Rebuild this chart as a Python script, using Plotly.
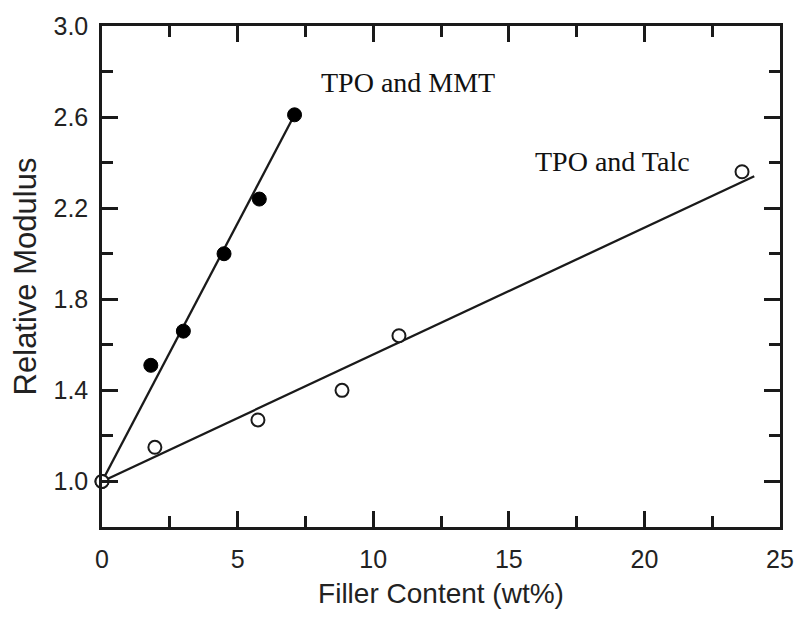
import plotly.graph_objects as go

# Data
mmt_x = [0, 1.8, 3.0, 4.5, 5.8, 7.1]
mmt_y = [1.0, 1.51, 1.66, 2.0, 2.24, 2.61]
talc_x = [0, 1.95, 5.75, 8.85, 10.95, 23.6]
talc_y = [1.0, 1.15, 1.27, 1.40, 1.64, 2.36]

# Linear fit lines (endpoints)
mmt_fit_x = [0, 7.1]
mmt_fit_y = [1.0, 2.61]
talc_fit_x = [0, 24.05]
talc_fit_y = [1.0, 2.34]

x_tickvals = [0, 5, 10, 15, 20, 25]
y_tickvals = [1.0, 1.4, 1.8, 2.2, 2.6, 3.0]
y_ticktext = ["1.0", "1.4", "1.8", "2.2", "2.6", "3.0"]

labels = [("TPO and MMT", 8.0, 2.75), ("TPO and Talc", 15.9, 2.405)]

ink = "#1a1a1a"
fig = go.Figure()
fig.add_trace(go.Scatter(x=mmt_fit_x, y=mmt_fit_y, mode="lines",
                         line=dict(color=ink, width=2.3), showlegend=False, cliponaxis=False))
fig.add_trace(go.Scatter(x=talc_fit_x, y=talc_fit_y, mode="lines",
                         line=dict(color=ink, width=2.3), showlegend=False, cliponaxis=False))
fig.add_trace(go.Scatter(x=mmt_x, y=mmt_y, mode="markers",
                         marker=dict(symbol="circle", size=14, color="black",
                                     line=dict(color="black", width=1)),
                         showlegend=False, cliponaxis=False))
fig.add_trace(go.Scatter(x=talc_x, y=talc_y, mode="markers",
                         marker=dict(symbol="circle", size=13, color="white",
                                     line=dict(color=ink, width=2)),
                         showlegend=False, cliponaxis=False))

for text, x, y in labels:
    fig.add_annotation(x=x, y=y, text=text, showarrow=False, xanchor="left", yanchor="middle",
                       font=dict(family="Liberation Serif, Times New Roman, serif", size=28, color="#111"))

axis_common = dict(showline=True, linecolor=ink, linewidth=2.5, mirror="allticks",
                   ticks="inside", tickwidth=2.5, tickcolor=ink, ticklen=16,
                   showgrid=False, zeroline=False,
                   tickfont=dict(family="Liberation Sans, Arial, sans-serif", size=25, color="#222"),
                   minor=dict(ticks="inside", ticklen=11, tickwidth=2.5, tickcolor=ink))

fig.update_xaxes(range=[0, 25], tickvals=x_tickvals, minor_dtick=2.5,
                 ticklabelstandoff=8,
                 title=dict(text="Filler Content (wt%)", standoff=12,
                            font=dict(family="Liberation Sans, Arial, sans-serif", size=28, color="#222")),
                 **axis_common)
fig.update_yaxes(range=[0.8, 3.0], tickvals=y_tickvals, ticktext=y_ticktext, minor_dtick=0.2,
                 ticklabelstandoff=6,
                 title=dict(text="Relative Modulus", standoff=8,
                            font=dict(family="Liberation Sans, Arial, sans-serif", size=31, color="#222")),
                 **axis_common)

fig.update_layout(width=806, height=617, margin=dict(l=102, r=17, t=17, b=90),
                  plot_bgcolor="white", paper_bgcolor="white")

fig.write_html("out.html")
